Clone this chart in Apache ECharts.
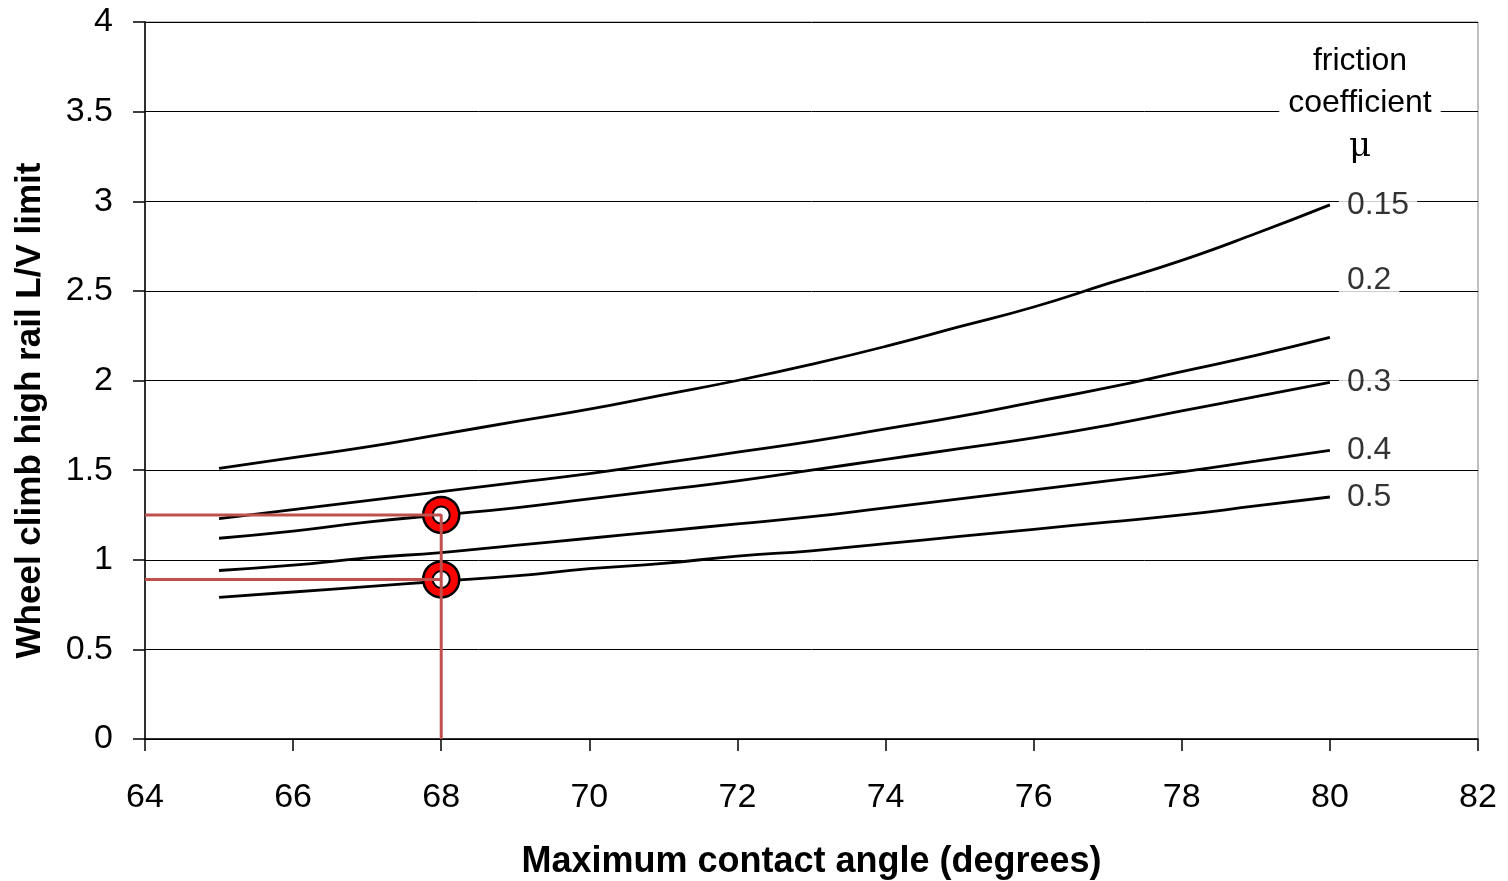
<!DOCTYPE html>
<html>
<head>
<meta charset="utf-8">
<script src="https://cdn.jsdelivr.net/npm/echarts@6/dist/echarts.min.js"></script>
<style>
  html, body { margin: 0; padding: 0; background: #fff; }
  #chart { width: 1508px; height: 881px; }
</style>
</head>
<body>
<div id="chart"></div>
<script>
// contact angle (degrees)
var angles = [65, 66, 67, 68, 69, 70, 71, 72, 73, 74, 75, 76, 77, 78, 79, 80];

// L/V limit curves, top to bottom
var curveA = [1.51, 1.57, 1.63, 1.70, 1.77, 1.84, 1.92, 2.00, 2.09, 2.19, 2.30, 2.41, 2.54, 2.67, 2.82, 2.98];
var curveB = [1.23, 1.28, 1.33, 1.38, 1.43, 1.48, 1.54, 1.60, 1.66, 1.73, 1.80, 1.88, 1.96, 2.05, 2.14, 2.24];
var curveC = [1.12, 1.16, 1.21, 1.25, 1.29, 1.34, 1.39, 1.44, 1.50, 1.56, 1.62, 1.68, 1.75, 1.83, 1.91, 1.99];
var curveD = [0.94, 0.97, 1.01, 1.04, 1.08, 1.12, 1.16, 1.20, 1.24, 1.29, 1.34, 1.39, 1.44, 1.49, 1.55, 1.61];
var curveE = [0.79, 0.82, 0.85, 0.88, 0.91, 0.95, 0.98, 1.02, 1.05, 1.09, 1.13, 1.17, 1.21, 1.25, 1.30, 1.35];

// friction coefficient labels at the right end
var muLabels = ['0.15', '0.2', '0.3', '0.4', '0.5'];
var muLabelY = [2.98, 2.56, 1.99, 1.61, 1.35];

// example read-offs at 68 degrees
var pickAngle = 68;
var pickValues = [1.25, 0.89];

function pairs(xs, ys) {
    return xs.map(function (x, i) { return [x, ys[i]]; });
}

var font = "'Liberation Sans', Arial, sans-serif";
var chart = echarts.init(document.getElementById('chart'));

var curveSeries = [curveA, curveB, curveC, curveD, curveE].map(function (c) {
    return {
        type: 'line',
        data: pairs(angles, c),
        smooth: true,
        symbol: 'none',
        lineStyle: { color: '#000', width: 2.8 },
        z: 2
    };
});

var option = {
    animation: false,
    backgroundColor: '#fff',
    grid: {
        left: 145, right: 30, top: 22, bottom: 142,
        outerBoundsMode: 'none',
        containLabel: false,
        show: true, borderColor: '#808080', borderWidth: 1
    },
    xAxis: {
        type: 'value',
        min: 64, max: 82, interval: 2,
        name: 'Maximum contact angle (degrees)',
        nameLocation: 'middle',
        nameGap: 105,
        nameTextStyle: { fontFamily: font, fontSize: 36, fontWeight: 'bold', color: '#000' },
        axisLine: { lineStyle: { color: '#000', width: 1.5 } },
        axisTick: { show: true, length: 12, lineStyle: { color: '#000', width: 1.5 } },
        axisLabel: { margin: 42, fontFamily: font, fontSize: 34, color: '#000' },
        splitLine: { show: false }
    },
    yAxis: {
        type: 'value',
        min: 0, max: 4, interval: 0.5,
        name: 'Wheel climb high rail L/V limit',
        nameLocation: 'middle',
        nameGap: 97,
        nameTextStyle: {
            fontFamily: font, fontSize: 35, fontWeight: 'bold', color: '#000',
            padding: [0, 60, 0, 0]
        },
        axisLine: { show: true, lineStyle: { color: '#000', width: 1.5 } },
        axisTick: { show: true, length: 12, lineStyle: { color: '#000', width: 1.5 } },
        axisLabel: { margin: 32, fontFamily: font, fontSize: 34, color: '#000' },
        splitLine: { show: true, lineStyle: { color: '#000', width: 1 } }
    },
    graphic: [{
        type: 'text',
        x: 1360, y: 40,
        z: 10,
        style: {
            text: 'friction\ncoefficient\n{m|μ}',
            fontFamily: font, fontSize: 32, lineHeight: 42,
            fill: '#000', align: 'center',
            backgroundColor: '#fff', padding: [0, 9],
            rich: {
                m: { fontFamily: "'DejaVu Serif', 'Liberation Serif', serif", fontSize: 34, lineHeight: 46, fill: '#000' }
            }
        }
    }],
    series: curveSeries.concat([
        {
            type: 'scatter',
            data: pickValues.map(function (v) { return [pickAngle, v]; }),
            symbol: 'circle',
            symbolSize: 36,
            itemStyle: { color: '#ff0000', borderColor: '#000', borderWidth: 2.5, opacity: 1 },
            z: 3
        },
        {
            type: 'scatter',
            data: pickValues.map(function (v) { return [pickAngle, v]; }),
            symbol: 'circle',
            symbolSize: 17,
            itemStyle: { color: '#fff', borderColor: '#000', borderWidth: 2, opacity: 1 },
            z: 4
        },
        {
            type: 'line',
            data: [[64, pickValues[0]], [pickAngle, pickValues[0]], [pickAngle, 0]],
            symbol: 'none',
            lineStyle: { color: '#c0504d', width: 3 },
            z: 5
        },
        {
            type: 'line',
            data: [[64, pickValues[1]], [pickAngle, pickValues[1]]],
            symbol: 'none',
            lineStyle: { color: '#c0504d', width: 3 },
            z: 5
        },
        {
            type: 'scatter',
            data: muLabels.map(function (t, i) { return [80, muLabelY[i], t]; }),
            symbolSize: 0,
            label: {
                show: true,
                position: 'right',
                distance: 9,
                formatter: function (p) { return p.data[2]; },
                fontFamily: font, fontSize: 32, color: '#000',
                backgroundColor: '#fff', padding: [2, 8]
            },
            z: 6
        }
    ])
};

chart.setOption(option);
window.addEventListener('resize', chart.resize);
</script>
</body>
</html>
